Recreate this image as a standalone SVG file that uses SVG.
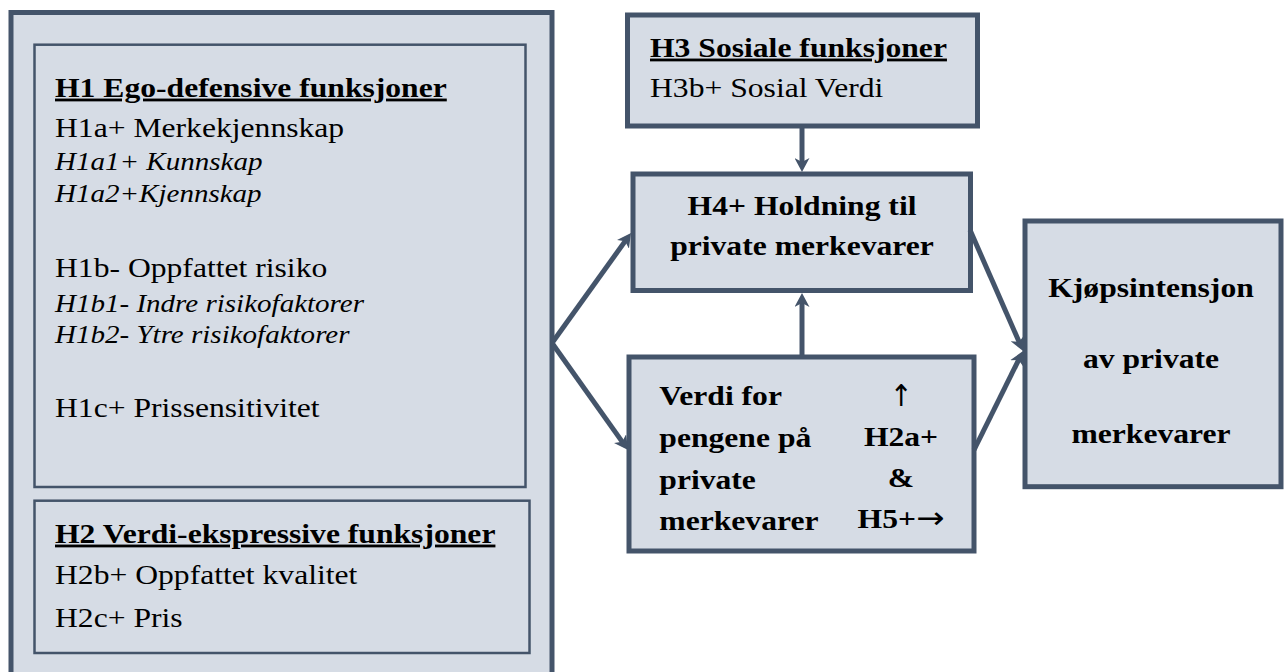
<svg xmlns="http://www.w3.org/2000/svg" width="1287" height="672" viewBox="0 0 1287 672">
<defs>
<style>
.box{fill:#D6DCE5;stroke:#44546A;stroke-width:5}
.inner{fill:#D6DCE5;stroke:#44546A;stroke-width:2.5}
.t{font-family:"Liberation Serif","Times New Roman",serif;font-size:28px;fill:#000}
.b{font-weight:bold}
.i{font-style:italic;font-size:25.7px}
.u{text-decoration:underline}
.c{text-anchor:middle}
.ar{font-family:"DejaVu Sans","Liberation Serif",sans-serif;font-weight:normal;font-size:30px}
.conn{stroke:#44546A;stroke-width:5;fill:none;marker-end:url(#ah)}
</style>
<marker id="ah" markerUnits="userSpaceOnUse" viewBox="0 0 14 15" markerWidth="14" markerHeight="15" refX="8" refY="7.5" orient="auto">
<path d="M0,0 L14,7.5 L0,15 L4,7.5 Z" fill="#44546A"/>
</marker>
</defs>

<g id="functions">
<rect class="box" x="11" y="12.5" width="541" height="680"/>
<g id="h1">
<rect class="inner" x="34.5" y="44.7" width="491" height="442.3"/>
<g transform="translate(55 0) scale(1.13 1)">
<text class="t b u" x="0" y="96.7">H1 Ego-defensive funksjoner</text>
<text class="t" x="0" y="136.7">H1a+ Merkekjennskap</text>
<text class="t i" x="0" y="170">H1a1+ Kunnskap</text>
<text class="t i" x="0" y="201.7">H1a2+Kjennskap</text>
<text class="t" x="0" y="276.7">H1b- Oppfattet risiko</text>
<text class="t i" x="0" y="311.7">H1b1- Indre risikofaktorer</text>
<text class="t i" x="0" y="343.3">H1b2- Ytre risikofaktorer</text>
<text class="t" x="0" y="416.7">H1c+ Prissensitivitet</text>
</g>
</g>
<g id="h2">
<rect class="inner" x="34.5" y="500.7" width="495" height="152.3"/>
<g transform="translate(55 0) scale(1.13 1)">
<text class="t b u" x="0" y="542.7">H2 Verdi-ekspressive funksjoner</text>
<text class="t" x="0" y="583.7">H2b+ Oppfattet kvalitet</text>
<text class="t" x="0" y="627">H2c+ Pris</text>
</g>
</g>
</g>

<g id="h3">
<rect class="box" x="627.5" y="15" width="350" height="111"/>
<g transform="translate(650 0) scale(1.13 1)">
<text class="t b u" x="0" y="56.7">H3 Sosiale funksjoner</text>
<text class="t" x="0" y="96.7">H3b+ Sosial Verdi</text>
</g>
</g>

<g id="h4">
<rect class="box" x="633" y="174" width="337.5" height="116.5"/>
<g transform="translate(802 0) scale(1.13 1)">
<text class="t b c" x="0" y="215">H4+ Holdning til</text>
<text class="t b c" x="0" y="255">private merkevarer</text>
</g>
</g>

<g id="verdi">
<rect class="box" x="629" y="357" width="345" height="194"/>
<g transform="translate(659.3 0) scale(1.13 1)">
<text class="t b" x="0" y="405">Verdi for</text>
<text class="t b" x="0" y="446.7">pengene på</text>
<text class="t b" x="0" y="489.3">private</text>
<text class="t b" x="0" y="530">merkevarer</text>
</g>
<g transform="translate(901 0) scale(1.13 1)">
<text class="t ar c" x="0" y="406" transform="translate(0 0) scale(0.8 1)">↑</text>
<text class="t b c" x="0" y="445.7">H2a+</text>
<text class="t b c" x="0" y="486.7">&amp;</text>
<text class="t b c" x="0" y="528.3">H5+<tspan class="ar" font-size="26px">→</tspan></text>
</g>
</g>

<g id="kjop">
<rect class="box" x="1025" y="221" width="256" height="265.7"/>
<g transform="translate(1151 0) scale(1.13 1)">
<text class="t b c" x="0" y="296.7">Kjøpsintensjon</text>
<text class="t b c" x="0" y="368.3">av private</text>
<text class="t b c" x="0" y="442.7">merkevarer</text>
</g>
</g>

<g id="connectors">
<line class="conn" x1="552" y1="343" x2="627.5" y2="237.9"/>
<line class="conn" x1="552" y1="343" x2="624.6" y2="445.1"/>
<line class="conn" x1="802" y1="126" x2="802" y2="166"/>
<line class="conn" x1="802" y1="357" x2="802" y2="299"/>
<line class="conn" x1="970" y1="230" x2="1020.7" y2="345.5"/>
<line class="conn" x1="974" y1="450" x2="1020.4" y2="356.4"/>
</g>
</svg>
